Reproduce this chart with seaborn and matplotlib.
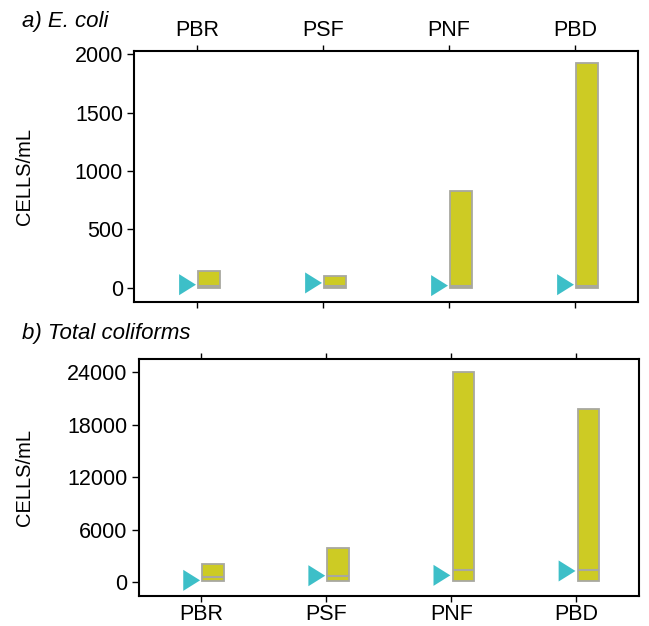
import numpy as np
import pandas as pd
import matplotlib
matplotlib.use("Agg")
import matplotlib.pyplot as plt
import seaborn as sns
from matplotlib.path import Path

categories = ["PBR", "PSF", "PNF", "PBD"]

ecoli_min = [0, 0, 0, 0]
ecoli_median = [20, 15, 15, 15]
ecoli_max = [145, 105, 826, 1920]
ecoli_marker = [28, 43, 20, 28]

coli_min = [115, 115, 115, 115]
coli_median = [570, 690, 1330, 1330]
coli_max = [2100, 3890, 24000, 19800]
coli_marker = [190, 720, 760, 1260]

sns.set_theme(style="white")
plt.rcParams['font.family'] = ['Liberation Sans', 'DejaVu Sans']
plt.rcParams['text.color'] = 'black'
plt.rcParams['axes.labelcolor'] = 'black'

BOX_FACE = "#CDCB24"
BOX_EDGE = "#A8A8A0"
TRI = "#3DBFC8"

tri_marker = Path([(-0.8, -1.0), (0.8, 0.0), (-0.8, 1.0), (-0.8, -1.0)],
                  [Path.MOVETO, Path.LINETO, Path.LINETO, Path.CLOSEPOLY])

fig = plt.figure(figsize=(6.49, 6.26), dpi=100)
ax1 = fig.add_axes([134/649, 1-302/626, 504/649, 251/626])
ax2 = fig.add_axes([138.5/649, 1-596/626, 500.5/649, 237/626])


def draw(ax, mins, meds, maxs, marks, ylim, yticks, label_x):
    x = np.arange(len(categories))
    box_off, box_w = 0.095, 0.17
    mins = np.array(mins, float); maxs = np.array(maxs, float); meds = np.array(meds, float)
    ax.bar(x + box_off, maxs - mins, bottom=mins, width=box_w, color=BOX_FACE,
           edgecolor=BOX_EDGE, linewidth=1.3, zorder=2)
    ax.hlines(meds, x + box_off - box_w/2, x + box_off + box_w/2, color=BOX_EDGE,
              linewidth=1.5, zorder=3)
    df = pd.DataFrame({"x": x - 0.075, "y": marks})
    sns.scatterplot(data=df, x="x", y="y", marker=tri_marker, s=230, color=TRI,
                    edgecolor="none", ax=ax, zorder=4, legend=False)
    ax.set_xlim(-0.5, 3.5)
    ax.set_ylim(*ylim)
    ax.set_yticks(yticks)
    ax.set_yticklabels([str(t) for t in yticks])
    ax.set_xticks(x)
    ax.set_xticklabels(categories)
    ax.set_xlabel("")
    ax.set_ylabel("CELLS/mL", fontsize=14.5, color="black")
    ax.yaxis.set_label_coords(label_x, 0.5)
    for s in ax.spines.values():
        s.set_color("black")
        s.set_linewidth(1.5)
        s.set_visible(True)
    ax.tick_params(axis="both", which="both", direction="out", length=5, width=1,
                   color="black", labelsize=15.5, labelcolor="black")
    ax.tick_params(axis="x", top=True, bottom=True, length=4)
    ax.tick_params(axis="y", left=True, right=False, pad=3)


draw(ax1, ecoli_min, ecoli_median, ecoli_max, ecoli_marker, (-120, 2026),
     [0, 500, 1000, 1500, 2000], (34-134)/504)
ax1.tick_params(axis="x", labeltop=True, labelbottom=False, pad=3)

draw(ax2, coli_min, coli_median, coli_max, coli_marker, (-1600, 25490),
     [0, 6000, 12000, 18000, 24000], (34-138.5)/500.5)
ax2.tick_params(axis="x", labeltop=False, labelbottom=True, pad=2)

fig.text(22/649, 1-22/626, "a) E. coli", fontsize=16, style="italic", va="center",
         ha="left", color="black")
fig.text(22/649, 1-333/626, "b) Total coliforms", fontsize=16, style="italic",
         va="center", ha="left", color="black")

fig.savefig("out.png", dpi=100)
